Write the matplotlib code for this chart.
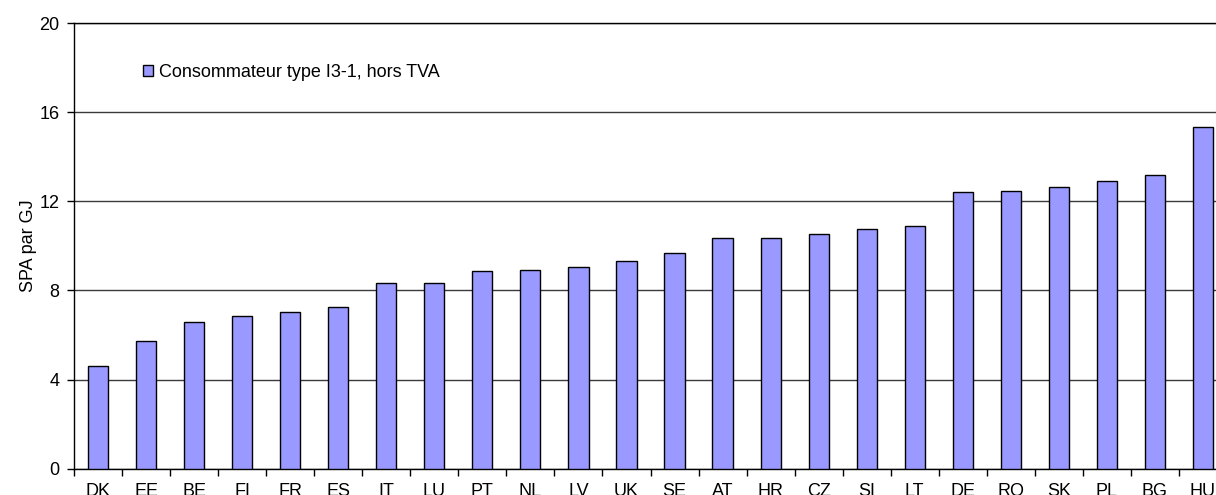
import numpy as np
import matplotlib
matplotlib.use("Agg")
import matplotlib.pyplot as plt

plt.rcParams['font.family'] = ['Liberation Sans', 'DejaVu Sans']

# donnees
pays = ["DK", "EE", "BE", "FI", "FR", "ES", "IT", "LU", "PT", "NL", "LV", "UK",
        "SE", "AT", "HR", "CZ", "SI", "LT", "DE", "RO", "SK", "PL", "BG", "HU"]
valeurs = [4.61, 5.75, 6.59, 6.83, 7.02, 7.27, 8.35, 8.35, 8.85, 8.92, 9.06, 9.30,
           9.67, 10.37, 10.37, 10.51, 10.76, 10.90, 12.41, 12.47, 12.65, 12.92, 13.17, 15.33]
yticks = [0, 4, 8, 12, 16, 20]
legende = "Consommateur type I3-1, hors TVA"

fig = plt.figure(figsize=(12.16, 4.95), dpi=100)
ax = fig.add_axes([74 / 1216, (495 - 468.7) / 495, 1153 / 1216, 445.7 / 495])

x = np.arange(len(pays))
ax.bar(x, valeurs, width=0.42, color="#9999FF", edgecolor="black", linewidth=1.0,
       label=legende, zorder=3)

ax.set_xlim(-0.5, len(pays) - 0.5)
ax.set_ylim(0, 20)
ax.set_yticks(yticks)
ax.yaxis.grid(True, color="#3a3a3a", linewidth=1.0, zorder=0)

# ticks entre les categories
ax.set_xticks(x)
ax.set_xticklabels(pays, fontsize=13)
ax.set_xticks(np.arange(len(pays) + 1) - 0.5, minor=True)
ax.tick_params(axis="x", which="major", length=0, pad=10)
ax.tick_params(axis="x", which="minor", length=5, direction="out", width=1)
ax.tick_params(axis="y", length=5, width=1, pad=5.5, labelsize=13)

ax.spines["right"].set_visible(False)
for s in ["left", "bottom", "top"]:
    ax.spines[s].set_linewidth(1.0)
    ax.spines[s].set_color("black")

ax.set_ylabel("SPA par GJ", fontsize=13, labelpad=2)

ax.legend(loc="center left", bbox_to_anchor=(0.052, 0.89), frameon=False,
          fontsize=13, handlelength=0.55, handleheight=0.55, handletextpad=0.35,
          borderpad=0)

fig.savefig("out.png", dpi=100)
